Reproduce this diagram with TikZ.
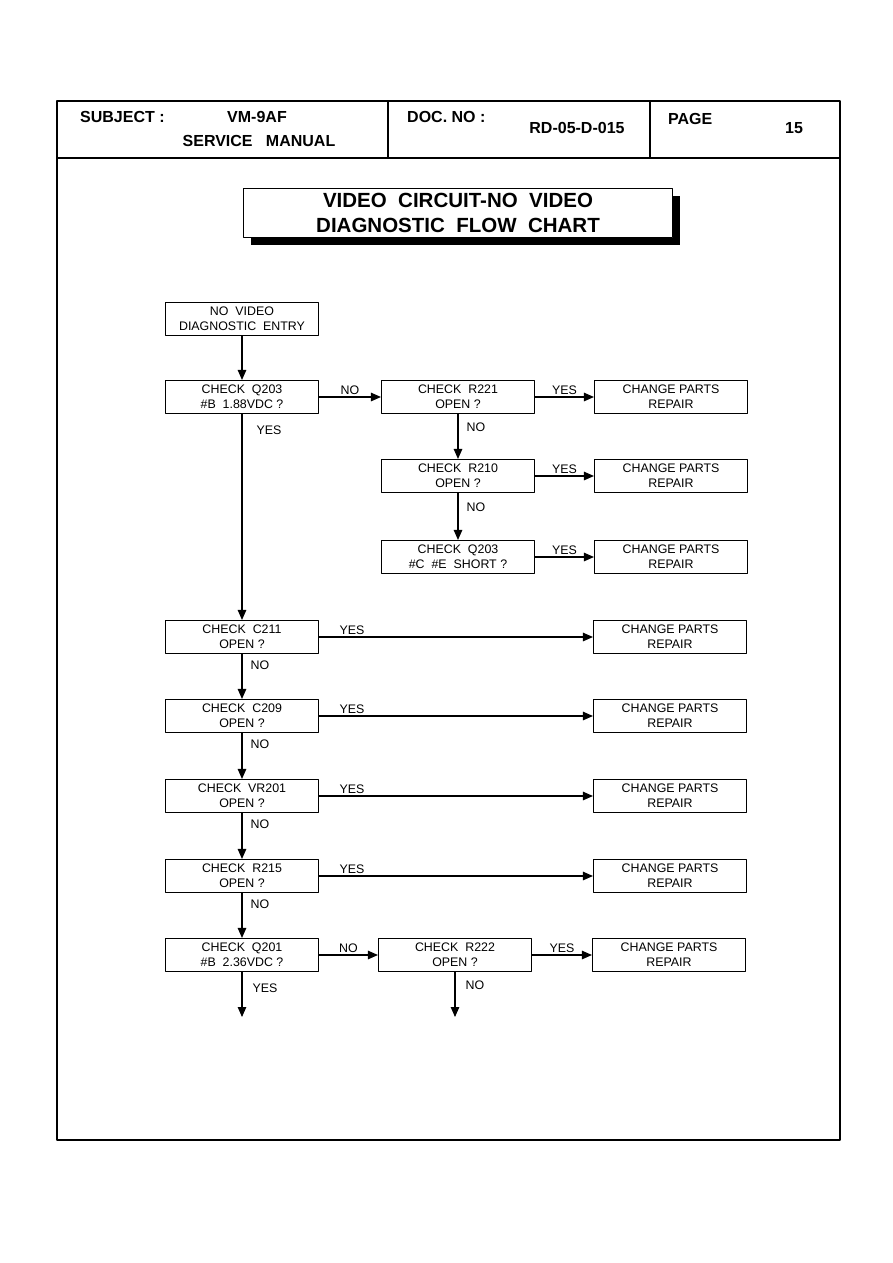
\documentclass[tikz,border=0pt]{standalone}
\usepackage{fontspec}
\setmainfont{Liberation Sans}
\usetikzlibrary{arrows.meta,shadows}

\begin{document}
\begin{tikzpicture}[x=1pt,y=-1pt,>={Triangle[length=10pt,width=8.5pt]},line cap=round,line join=round,
  box/.style={draw,line width=1.1pt,minimum width=153pt,minimum height=33pt,inner sep=0pt,align=center,font=\fontsize{12.4}{15}\selectfont},
  lbl/.style={font=\fontsize{12.4}{14}\selectfont,inner sep=2pt},
  hdr/.style={font=\bfseries\fontsize{16}{19}\selectfont,inner sep=0pt},
  arr/.style={->,line width=1.1pt}]
\useasboundingbox (0,0) rectangle (893,1263);
% page frame and header
\draw[line width=1.2pt] (57,101) rectangle (840,1140);
\draw[line width=1.2pt] (57,158) -- (840,158);
\draw[line width=1.2pt] (388,101) -- (388,158);
\draw[line width=1.2pt] (650,101) -- (650,158);
\node[hdr,anchor=west] (subj) at (80,117) {SUBJECT\ :};
\node[hdr] (model) at (257,117) {VM-9AF};
\node[hdr] (manual) at (259,141) {SERVICE\ \ \ MANUAL};
\node[hdr,anchor=west] (docno) at (407,117) {DOC. NO\ :};
\node[hdr] (docnum) at (577,128) {RD-05-D-015};
\node[hdr,anchor=west] (page) at (668,119) {PAGE};
\node[hdr] (pagenum) at (794,128) {15};
% title
\node[draw,line width=1.1pt,fill=white,minimum width=429pt,minimum height=49pt,align=center,
  font=\bfseries\fontsize{20.5}{25}\selectfont,
  drop shadow={shadow xshift=7pt,shadow yshift=-7pt,fill=black,opacity=1}] (title) at (458,213)
  {VIDEO\ \ CIRCUIT-NO\ \ VIDEO\\DIAGNOSTIC\ \ FLOW\ \ CHART};
% boxes
\node[box] (entry) at (242,319) {NO\ \ VIDEO\\DIAGNOSTIC\ \ ENTRY};
\node[box] (q203) at (242,397) {CHECK\ \ Q203\\\#B\ \ 1.88VDC ?};
\node[box] (r221) at (458,397) {CHECK\ \ R221\\OPEN ?};
\node[box] (cp1) at (671,397) {CHANGE PARTS\\REPAIR};
\node[box] (r210) at (458,476) {CHECK\ \ R210\\OPEN ?};
\node[box] (cp2) at (671,476) {CHANGE PARTS\\REPAIR};
\node[box] (q203s) at (458,557) {CHECK\ \ Q203\\\#C\ \ \#E\ \ SHORT ?};
\node[box] (cp3) at (671,557) {CHANGE PARTS\\REPAIR};
\node[box] (c211) at (242,637) {CHECK\ \ C211\\OPEN ?};
\node[box] (cp4) at (670,637) {CHANGE PARTS\\REPAIR};
\node[box] (c209) at (242,716) {CHECK\ \ C209\\OPEN ?};
\node[box] (cp5) at (670,716) {CHANGE PARTS\\REPAIR};
\node[box] (vr201) at (242,796) {CHECK\ \ VR201\\OPEN ?};
\node[box] (cp6) at (670,796) {CHANGE PARTS\\REPAIR};
\node[box] (r215) at (242,876) {CHECK\ \ R215\\OPEN ?};
\node[box] (cp7) at (670,876) {CHANGE PARTS\\REPAIR};
\node[box] (q201) at (242,955) {CHECK\ \ Q201\\\#B\ \ 2.36VDC ?};
\node[box] (r222) at (455,955) {CHECK\ \ R222\\OPEN ?};
\node[box] (cp8) at (669,955) {CHANGE PARTS\\REPAIR};
\coordinate (out1) at (242,1017);
\coordinate (out2) at (455,1017);
% connectors
\draw[arr] (entry) -- (q203);
\draw[arr] (q203) -- node[lbl,above] {NO} (r221);
\draw[arr] (r221) -- node[lbl,above] {YES} (cp1);
\draw[arr] (r221) -- node[lbl,pos=0.3,right=6pt] {NO} (r210);
\draw[arr] (r210) -- node[lbl,above] {YES} (cp2);
\draw[arr] (r210) -- node[lbl,pos=0.3,right=6pt] {NO} (q203s);
\draw[arr] (q203s) -- node[lbl,above] {YES} (cp3);
\draw[arr] (q203) -- node[lbl,pos=0.08,right=12pt] {YES} (c211);
\draw[arr] (c211) -- node[lbl,pos=0.12,above] {YES} (cp4);
\draw[arr] (c211) -- node[lbl,pos=0.25,right=6pt] {NO} (c209);
\draw[arr] (c209) -- node[lbl,pos=0.12,above] {YES} (cp5);
\draw[arr] (c209) -- node[lbl,pos=0.25,right=6pt] {NO} (vr201);
\draw[arr] (vr201) -- node[lbl,pos=0.12,above] {YES} (cp6);
\draw[arr] (vr201) -- node[lbl,pos=0.25,right=6pt] {NO} (r215);
\draw[arr] (r215) -- node[lbl,pos=0.12,above] {YES} (cp7);
\draw[arr] (r215) -- node[lbl,pos=0.25,right=6pt] {NO} (q201);
\draw[arr] (q201) -- node[lbl,above] {NO} (r222);
\draw[arr] (r222) -- node[lbl,above] {YES} (cp8);
\draw[arr] (q201) -- node[lbl,pos=0.35,right=8pt] {YES} (out1);
\draw[arr] (r222) -- node[lbl,pos=0.3,right=8pt] {NO} (out2);
\end{tikzpicture}
\end{document}
